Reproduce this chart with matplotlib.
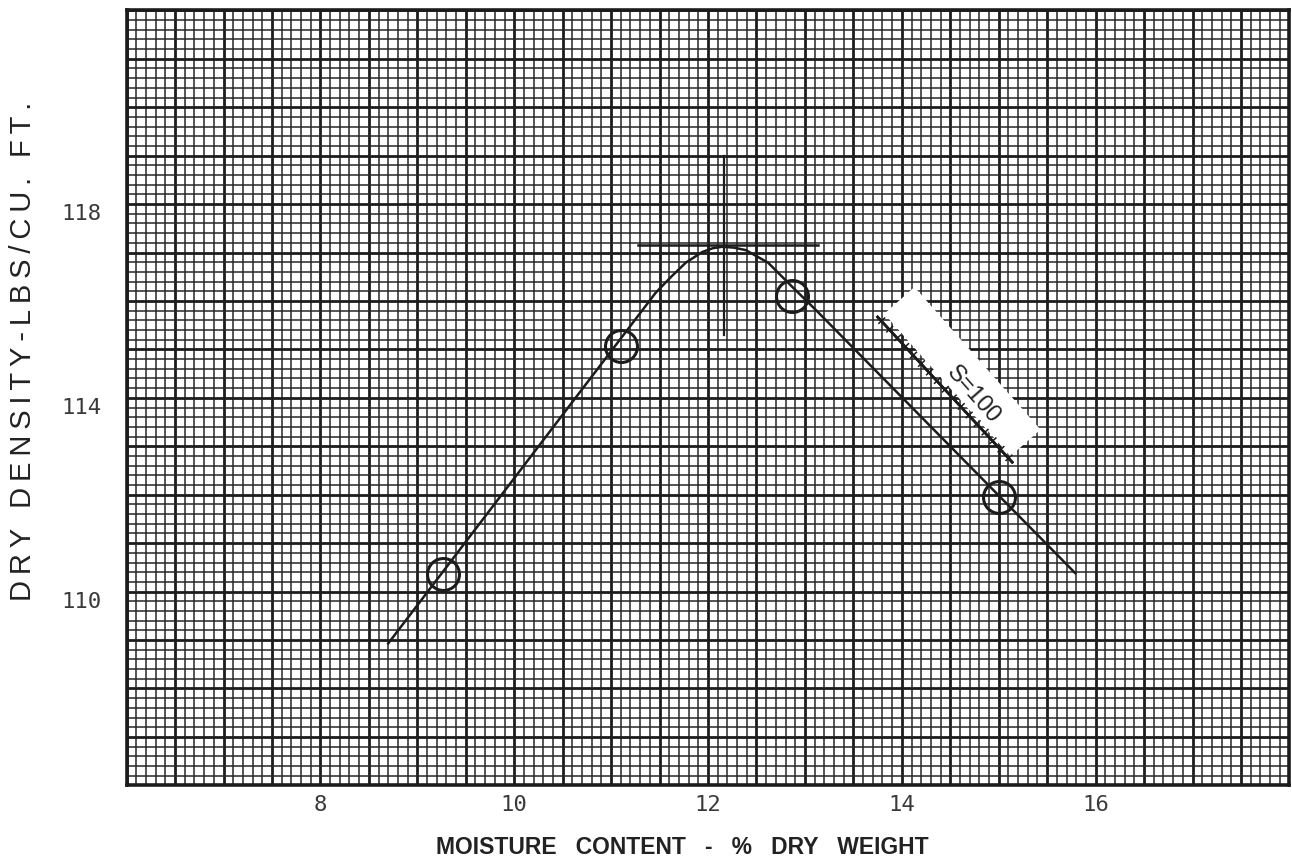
import numpy as np
import matplotlib
matplotlib.use("Agg")
import matplotlib.pyplot as plt
import matplotlib.patheffects as pe
from matplotlib.patches import Rectangle
from matplotlib.transforms import Affine2D, ScaledTranslation
from matplotlib.ticker import MultipleLocator, FuncFormatter

# compaction test points
test_moisture = [9.27, 11.10, 12.87, 15.00]
test_density = [110.36, 115.07, 116.10, 111.95]

# hand-drawn compaction curve (vertices)
curve_moisture = [8.70, 11.46, 11.62, 11.77, 11.94, 12.05, 12.15, 12.27, 12.39, 12.62, 12.87, 13.11, 15.79]
curve_density = [108.93, 116.17, 116.50, 116.79, 117.01, 117.09, 117.12, 117.10, 117.05, 116.79, 116.29, 115.82, 110.38]

# optimum marks
opt_moisture = 12.16
max_density = 117.16
opt_hline = [11.28, 13.13]
opt_vline = [115.3, 119.0]

# zero air voids line (S=100)
s100_moisture = [13.75, 15.14]
s100_density = [115.67, 112.67]
s100_label = "S=100"
s100_label_pos = (14.74, 114.06)
s100_strip_pos = (14.625, 114.54)

x_tick_labels = [8, 10, 12, 14, 16]
y_tick_labels = [110, 114, 118]
x_label = "MOISTURE   CONTENT   -   %   DRY   WEIGHT"
y_label = "DRY DENSITY-LBS/CU. FT."

ink = "#1c1c1c"

fig = plt.figure(figsize=(12.92, 8.63), dpi=100)
ax = fig.add_axes([0.098, 0.090, 0.900, 0.898])
ax.set_xlim(6, 18)
ax.set_ylim(106, 122)

# graph paper
ax.xaxis.set_major_locator(MultipleLocator(0.5))
ax.xaxis.set_minor_locator(MultipleLocator(0.1))
ax.yaxis.set_major_locator(MultipleLocator(1))
ax.yaxis.set_minor_locator(MultipleLocator(0.2))
ax.grid(which="major", color=ink, linewidth=2.0)
ax.grid(which="minor", color="#262626", linewidth=1.1)
ax.set_axisbelow(True)

ax.xaxis.set_major_formatter(FuncFormatter(
    lambda v, p: f"{int(round(v))}" if any(abs(v - t) < 1e-6 for t in x_tick_labels) else ""))
ax.yaxis.set_major_formatter(FuncFormatter(
    lambda v, p: f"{int(round(v))}" if any(abs(v - t) < 1e-6 for t in y_tick_labels) else ""))
ax.tick_params(which="both", length=0)
ax.tick_params(axis="x", pad=7, labelsize=16, labelcolor="#3a3a3a")
ax.tick_params(axis="y", pad=18, labelsize=16, labelcolor="#3a3a3a")
for lab in ax.get_xticklabels() + ax.get_yticklabels():
    lab.set_fontfamily("DejaVu Sans Mono")
# the printed y numbers sit a little below their lines
for t in ax.yaxis.get_major_ticks():
    t.label1.set_transform(t.label1.get_transform() + ScaledTranslation(0, -6 / 72, fig.dpi_scale_trans))

for sp in ax.spines.values():
    sp.set_linewidth(2.6)
    sp.set_color(ink)

# white strip pasted along the S=100 line
strip_len, strip_wid = 137, 29  # points
strip = Rectangle((-strip_len / 2, -strip_wid / 2), strip_len, strip_wid,
                  facecolor="white", edgecolor="none", zorder=3,
                  transform=Affine2D().scale(fig.dpi / 72).rotate_deg(-48.5)
                  + ScaledTranslation(s100_strip_pos[0], s100_strip_pos[1], ax.transData))
ax.add_patch(strip)
ax.text(s100_label_pos[0], s100_label_pos[1], s100_label,
        rotation=-48.5, rotation_mode="anchor", ha="center", va="center",
        fontsize=17, family="Liberation Sans", color="#222222", zorder=4)

ax.plot(s100_moisture, s100_density, color=ink, linewidth=1.8, zorder=4,
        path_effects=[pe.Normal(),
                      pe.withTickedStroke(angle=90, spacing=8, length=0.4, linewidth=1.1),
                      pe.withTickedStroke(angle=-90, spacing=8, length=0.3, linewidth=1.1)])

# compaction curve
ax.plot(curve_moisture, curve_density, color=ink, linewidth=1.8, zorder=4)
ax.plot(test_moisture, test_density, linestyle="none", marker="o", markersize=23,
        markerfacecolor="none", markeredgecolor=ink, markeredgewidth=2.2, zorder=5)

# optimum cross
ax.plot(opt_hline, [max_density, max_density], color=ink, linewidth=1.8, zorder=4)
ax.plot([opt_moisture, opt_moisture], opt_vline, color=ink, linewidth=1.6, zorder=4)

fig.text(0.528, 0.018, x_label, ha="center", va="center", fontsize=16.5,
         fontweight="bold", family="Liberation Sans", color="#222222")
fig.text(0.018, 0.593, "\u2009".join(y_label), ha="center", va="center", rotation=90,
         fontsize=21, family=["Liberation Sans", "DejaVu Sans"], color="#222222")

fig.savefig("out.png", dpi=100, facecolor="white")
